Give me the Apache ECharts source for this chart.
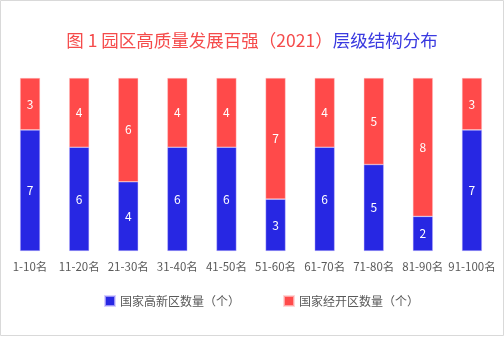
<!DOCTYPE html>
<html><head><meta charset="utf-8">
<script src="https://cdn.jsdelivr.net/npm/echarts@6/dist/echarts.min.js"></script>
<style>html,body{margin:0;padding:0;background:#fff}#c{width:504px;height:337px}</style>
</head><body><div id="c"></div>
<script>
const categories = ['1-10名','11-20名','21-30名','31-40名','41-50名','51-60名','61-70名','71-80名','81-90名','91-100名'];
const gaoxinValues = [7,6,4,6,6,3,6,5,2,7];
const jingkaiValues = [3,4,6,4,4,7,4,5,8,3];
const seriesNames = ['国家高新区数量（个）','国家经开区数量（个）'];
const titleRed = '图 1 园区高质量发展百强（2021）';
const titleBlue = '层级结构分布';

const font = '"Noto Sans CJK SC", "Noto Sans", sans-serif';
const chart = echarts.init(document.getElementById('c'));
chart.setOption({
  animation: false,
  textStyle: {fontFamily: font},
  title: {
    text: '{r|' + titleRed + '}{b|' + titleBlue + '}',
    left: 'center', top: 27,
    textStyle: {
      fontWeight: 'normal',
      rich: {
        r: {color: '#F54B4B', fontSize: 17.5, fontWeight: 'normal', fontFamily: font},
        b: {color: '#3A3AE0', fontSize: 17.5, fontWeight: 'normal', fontFamily: font}
      }
    }
  },
  graphic: [{
    type: 'rect', shape: {x: 0.5, y: 0.5, width: 503, height: 335},
    style: {fill: 'none', stroke: '#d9d9d9', lineWidth: 1}, silent: true
  }],
  legend: {
    left: 104, top: 295, padding: 0, itemWidth: 10, itemHeight: 10, itemGap: 43,
    icon: 'rect',
    textStyle: {fontSize: 12, color: '#595959', fontFamily: font},
    data: seriesNames
  },
  grid: {left: 5.5, right: 7.5, top: 78, bottom: 86},
  xAxis: {
    type: 'category', data: categories,
    axisLine: {show: false}, axisTick: {show: false},
    axisLabel: {color: '#595959', fontSize: 11.5, margin: 10, interval: 0, fontFamily: font}
  },
  yAxis: {type: 'value', min: 0, max: 10, show: false, splitLine: {show: false}},
  series: [
    {
      name: seriesNames[0], type: 'bar', stack: 't', data: gaoxinValues, barWidth: 20,
      itemStyle: {color: '#2727E3', borderColor: 'rgba(200,190,255,0.7)', borderWidth: 0.6},
      label: {show: true, position: 'inside', color: '#fff', fontSize: 12, fontFamily: font}
    },
    {
      name: seriesNames[1], type: 'bar', stack: 't', data: jingkaiValues, barWidth: 20,
      itemStyle: {color: '#FF4A4A', borderColor: 'rgba(255,200,200,0.7)', borderWidth: 0.6},
      label: {show: true, position: 'inside', color: '#fff', fontSize: 12, fontFamily: font}
    }
  ]
});
</script></body></html>
